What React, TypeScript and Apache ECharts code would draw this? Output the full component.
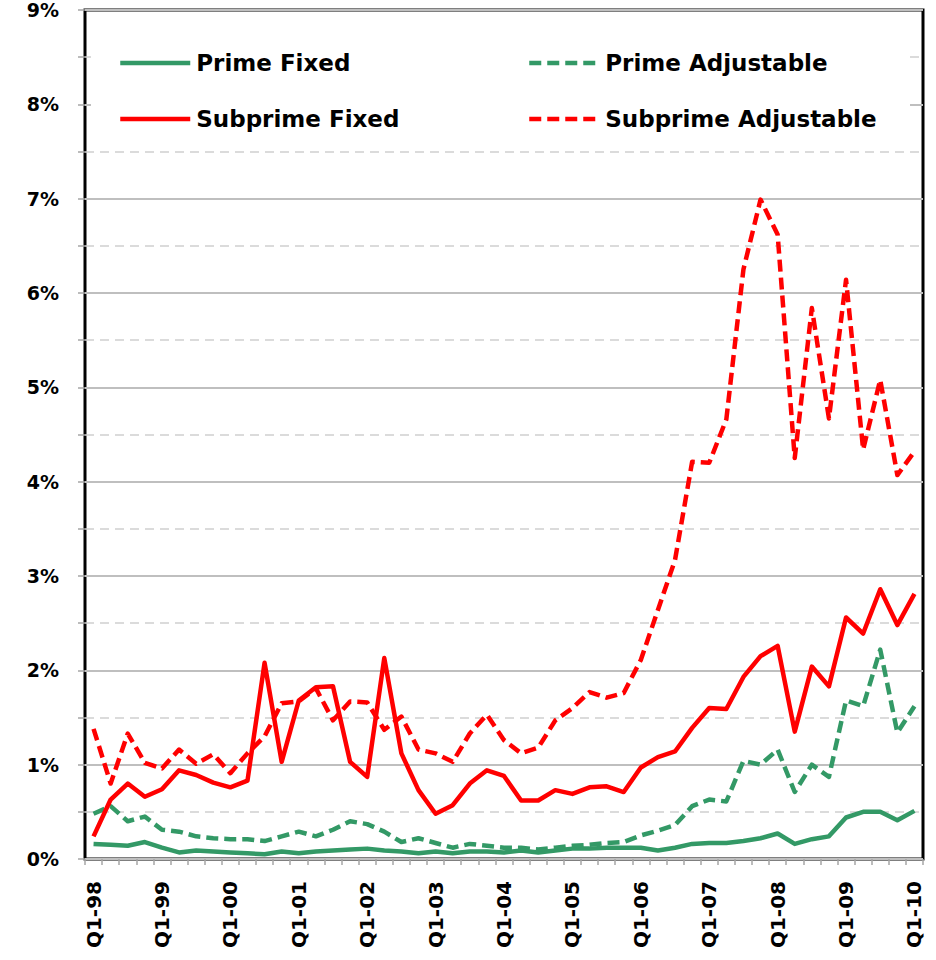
import React, { useEffect, useRef } from "react";
import * as echarts from "echarts";

const categories = [
  "Q1-98", "Q2-98", "Q3-98", "Q4-98",
  "Q1-99", "Q2-99", "Q3-99", "Q4-99",
  "Q1-00", "Q2-00", "Q3-00", "Q4-00",
  "Q1-01", "Q2-01", "Q3-01", "Q4-01",
  "Q1-02", "Q2-02", "Q3-02", "Q4-02",
  "Q1-03", "Q2-03", "Q3-03", "Q4-03",
  "Q1-04", "Q2-04", "Q3-04", "Q4-04",
  "Q1-05", "Q2-05", "Q3-05", "Q4-05",
  "Q1-06", "Q2-06", "Q3-06", "Q4-06",
  "Q1-07", "Q2-07", "Q3-07", "Q4-07",
  "Q1-08", "Q2-08", "Q3-08", "Q4-08",
  "Q1-09", "Q2-09", "Q3-09", "Q4-09",
  "Q1-10",
];

const primeFixed = [
  0.16, 0.15, 0.14, 0.18, 0.12, 0.07, 0.09, 0.08,
  0.07, 0.06, 0.05, 0.08, 0.06, 0.08, 0.09, 0.10,
  0.11, 0.09, 0.08, 0.06, 0.08, 0.06, 0.08, 0.08,
  0.07, 0.09, 0.07, 0.09, 0.11, 0.11, 0.12, 0.12,
  0.12, 0.09, 0.12, 0.16, 0.17, 0.17, 0.19, 0.22,
  0.27, 0.16, 0.21, 0.24, 0.44, 0.50, 0.50, 0.41,
  0.51,
];

const primeAdjustable = [
  0.48, 0.56, 0.40, 0.45, 0.31, 0.29, 0.24, 0.22,
  0.21, 0.21, 0.19, 0.24, 0.29, 0.24, 0.31, 0.40,
  0.37, 0.29, 0.18, 0.22, 0.17, 0.12, 0.16, 0.14,
  0.12, 0.12, 0.10, 0.12, 0.14, 0.15, 0.17, 0.18,
  0.25, 0.30, 0.36, 0.56, 0.63, 0.61, 1.04, 1.00,
  1.16, 0.71, 1.00, 0.87, 1.68, 1.62, 2.22, 1.34,
  1.62,
];

const subprimeFixed = [
  0.24, 0.63, 0.80, 0.66, 0.74, 0.94, 0.89, 0.81,
  0.76, 0.83, 2.08, 1.03, 1.68, 1.82, 1.83, 1.03,
  0.87, 2.13, 1.12, 0.73, 0.48, 0.57, 0.80, 0.94,
  0.88, 0.62, 0.62, 0.73, 0.69, 0.76, 0.77, 0.71,
  0.97, 1.08, 1.14, 1.39, 1.60, 1.59, 1.93, 2.15,
  2.26, 1.35, 2.04, 1.83, 2.56, 2.39, 2.86, 2.48,
  2.81,
];

const subprimeAdjustable = [
  1.38, 0.80, 1.33, 1.02, 0.96, 1.16, 1.01, 1.11,
  0.91, 1.12, 1.30, 1.65, 1.67, 1.81, 1.47, 1.67,
  1.66, 1.37, 1.51, 1.16, 1.12, 1.03, 1.33, 1.53,
  1.26, 1.12, 1.18, 1.47, 1.60, 1.77, 1.71, 1.76,
  2.11, 2.64, 3.17, 4.21, 4.20, 4.66, 6.25, 6.99,
  6.62, 4.25, 5.84, 4.67, 6.14, 4.34, 5.08, 4.07,
  4.32,
];

const GREEN = "#339966";
const RED = "#ff0000";
const FONT = "DejaVu Sans";

export default function App() {
  const ref = useRef<HTMLDivElement>(null);

  useEffect(() => {
    if (!ref.current) return;
    const chart = echarts.init(ref.current, null, { renderer: "svg" });

    const mk = (name: string, data: number[], color: string, dashed: boolean) => ({
      name,
      type: "line",
      data,
      symbol: "none",
      showSymbol: false,
      lineStyle: {
        color,
        width: 4.5,
        type: dashed ? [12, 6] : "solid",
        cap: "butt",
        join: "round",
      },
      itemStyle: { color },
    });

    const legendBase = {
      orient: "vertical",
      top: 50,
      itemWidth: 70,
      itemHeight: 14,
      itemGap: 30,
      padding: 0,
      lineStyle: { width: 4.5 },
      itemStyle: { opacity: 0, borderWidth: 0 },
      textStyle: {
        fontFamily: FONT,
        fontWeight: "bold",
        fontSize: 23,
        lineHeight: 26,
        color: "#000",
        padding: [0, 0, 0, 1],
      },
    };

    chart.setOption({
      animation: false,
      backgroundColor: "#ffffff",
      grid: {
        left: 85,
        right: 13,
        top: 10,
        bottom: 101,
        show: true,
        borderColor: "#000000",
        borderWidth: 3,
        backgroundColor: "transparent",
        containLabel: false,
        outerBoundsMode: "none",
      },
      legend: [
        { ...legendBase, left: 118, data: ["Prime Fixed", "Subprime Fixed"] },
        { ...legendBase, left: 527, data: ["Prime Adjustable", "Subprime Adjustable"] },
      ],
      graphic: [
        {
          type: "rect",
          z: 1,
          silent: true,
          shape: { x: 91, y: 13, width: 819, height: 128 },
          style: { fill: "#ffffff" },
        },
      ],
      xAxis: {
        type: "category",
        data: categories,
        boundaryGap: true,
        axisLine: { show: false },
        axisTick: {
          show: true,
          interval: 0,
          length: 6,
          lineStyle: { color: "#a6a6a6", width: 1.5 },
        },
        axisLabel: {
          interval: 3,
          rotate: 90,
          margin: 22,
          fontFamily: FONT,
          fontWeight: "bold",
          fontSize: 20,
          color: "#000",
        },
        splitLine: { show: false },
      },
      yAxis: {
        type: "value",
        min: 0,
        max: 9,
        interval: 1,
        axisLine: { show: false },
        axisTick: { show: true, length: 7, lineStyle: { color: "#a6a6a6", width: 1.5 } },
        minorTick: { show: true, splitNumber: 2, length: 7, lineStyle: { color: "#a6a6a6", width: 1.5 } },
        splitLine: { show: true, lineStyle: { color: "#bfbfbf", width: 2 } },
        minorSplitLine: { show: true, lineStyle: { color: "#d0d0d0", width: 1.5, type: [9, 6] } },
        axisLabel: {
          formatter: "{value}%",
          margin: 26,
          fontFamily: FONT,
          fontWeight: "bold",
          fontSize: 19,
          padding: [2, 0, 0, 0],
          color: "#000",
        },
      },
      series: [
        mk("Prime Fixed", primeFixed, GREEN, false),
        mk("Prime Adjustable", primeAdjustable, GREEN, true),
        mk("Subprime Fixed", subprimeFixed, RED, false),
        mk("Subprime Adjustable", subprimeAdjustable, RED, true),
      ],
    });

    return () => chart.dispose();
  }, []);

  return (
    <div
      ref={ref}
      style={{ position: "fixed", left: 0, top: 0, width: 936, height: 960, background: "#fff" }}
    />
  );
}
